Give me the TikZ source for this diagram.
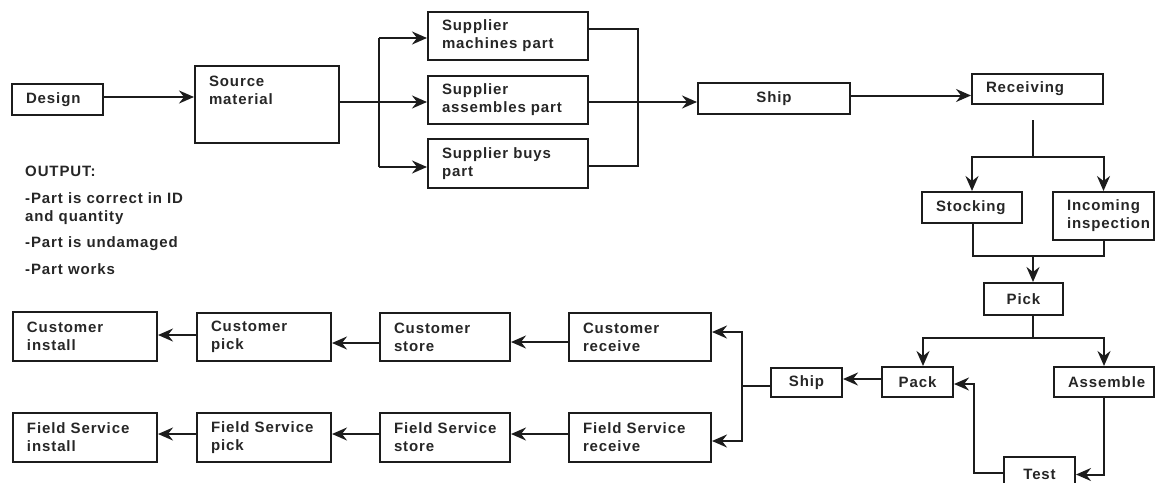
\documentclass[tikz,border=0pt]{standalone}
\usepackage{fontspec}
\setmainfont{Liberation Sans}[LetterSpace=6]
\usetikzlibrary{arrows.meta}
\definecolor{ink}{HTML}{1C1C1C}
\definecolor{txt}{HTML}{262626}
\newcommand\dfont{\fontsize{15}{18}\selectfont\bfseries}
\tikzset{
  bxl/.style 2 args={draw=ink, line width=2pt, inner xsep=14pt, inner ysep=0pt,
    minimum width=#1pt, minimum height=#2pt, text width=#1pt-28pt, align=left,
    text=txt, font=\dfont},
  bxc/.style 2 args={draw=ink, line width=2pt, inner sep=0pt,
    minimum width=#1pt, minimum height=#2pt, align=center, text=txt, font=\dfont},
  ln/.style={draw=ink, line width=2pt},
  arr/.style={ln, -{Stealth[length=15pt,width=13pt,inset=5pt]}},
}
\begin{document}
\begin{tikzpicture}[x=1pt,y=-1pt]
\useasboundingbox (0,0) rectangle (1155,482);
% top row
\node[bxl={91}{31}] (design) at (57.5,99.5) {Design};
\node[bxl={144}{77}] (source) at (267,104.5) {Source\\material\\[10pt]~};
\node[bxl={160}{48}] (sm) at (508,36) {Supplier\\machines part};
\node[bxl={160}{48}] (sa) at (508,100) {Supplier\\assembles part};
\node[bxl={160}{49}] (sb) at (508,163.5) {Supplier buys\\part};
\node[bxc={152}{31}] (shipa) at (774,98.5) {Ship};
\node[bxl={131}{30}] (recv) at (1037.5,89) {Receiving};
\node[bxl={100}{31}] (stock) at (972,207.5) {Stocking};
\node[bxl={101}{48}] (incoming) at (1103.5,216) {Incoming\\inspection};
\node[bxc={79}{32}] (pick) at (1023.5,299) {Pick};
\node[bxc={71}{30}] (pack) at (917.5,382) {Pack};
\node[bxl={100}{30}] (assemble) at (1104,382) {Assemble};
\node[bxc={71}{35}] (test) at (1039.5,474.5) {Test};
\node[bxc={71}{29}] (shipb) at (806.5,382.5) {Ship};
% customer row
\node[bxl={142}{48}] (crecv) at (640,337) {Customer\\receive};
\node[bxl={130}{48}] (cstore) at (445,337) {Customer\\store};
\node[bxl={134}{48}] (cpick) at (264,337) {Customer\\pick};
\node[bxl={144}{49}] (cinst) at (85,336.5) {Customer\\install};
% field service row
\node[bxl={142}{49}] (frecv) at (640,437.5) {Field Service\\receive};
\node[bxl={130}{49}] (fstore) at (445,437.5) {Field Service\\store};
\node[bxl={134}{49}] (fpick) at (264,437.5) {Field Service\\pick};
\node[bxl={144}{49}] (finst) at (85,437.5) {Field Service\\install};
% output text
\node[anchor=north west, inner sep=0pt, align=left, text=txt, font=\dfont] (out) at (25,166)
  {OUTPUT:\\[9pt]-Part is correct in ID\\and quantity\\[8pt]-Part is undamaged\\[9pt]-Part works};
% connectors top
\draw[arr] ([yshift=2.5pt]design.east) -- ([yshift=2.5pt]design.east -| source.west);
\coordinate (br) at (379,102);
\coordinate (brt) at (379,38);
\coordinate (brb) at (379,167);
\draw[ln] (source.east |- br) -- (br);
\draw[ln] (brt) -- (brb);
\draw[arr] (brt) -- (brt -| sm.west);
\draw[arr] (br) -- (br -| sa.west);
\draw[arr] (brb) -- (brb -| sb.west);
\coordinate (mgt) at (638,29);
\coordinate (mgm) at (638,102);
\coordinate (mgb) at (638,166);
\draw[ln] (sm.east |- mgt) -- (mgt) -- (mgb) -- (sb.east |- mgb);
\draw[arr] (sa.east |- mgm) -- (mgm -| shipa.west);
\draw[arr] ([yshift=3pt]shipa.east) -- ([yshift=3pt]shipa.east -| recv.west);
\coordinate (rv) at (1033,120);
\coordinate (rvb) at (1033,157);
\draw[ln] (rv) -- (rvb);
\draw[arr] (rvb) -| (stock.north);
\draw[arr] (rvb) -| (incoming.north);
\coordinate (jn) at (1033,256);
\draw[ln] ([xshift=1pt]stock.south) |- (jn);
\draw[ln] (incoming.south) |- (jn);
\draw[arr] (jn) -- (jn |- pick.north);
\coordinate (sp) at (1033,338);
\draw[ln] (jn |- pick.south) -- (sp);
\draw[arr] (sp) -| ([xshift=5.5pt]pack.north);
\draw[arr] (sp) -| (assemble.north);
\draw[arr] ([yshift=3pt]pack.west) -- ([yshift=3pt]pack.west -| shipb.east);
\draw[arr] (assemble.south) |- (test.east);
\coordinate (tpk) at (974,384);
\draw[arr] ([yshift=1.5pt]test.west) -| (tpk) -- (tpk -| pack.east);
% ship to customer / field service
\coordinate (sb2) at (742,386);
\coordinate (bkt) at (742,332);
\coordinate (bkb) at (742,441);
\draw[ln] (shipb.west |- sb2) -- (sb2);
\draw[arr] (sb2) -- (bkt) -- (bkt -| crecv.east);
\draw[arr] (sb2) -- (bkb) -- (bkb -| frecv.east);
\draw[arr] ([yshift=-5pt]crecv.west) -- ([yshift=-5pt]crecv.west -| cstore.east);
\draw[arr] ([yshift=-6pt]cstore.west) -- ([yshift=-6pt]cstore.west -| cpick.east);
\draw[arr] ([yshift=2pt]cpick.west) -- ([yshift=2pt]cpick.west -| cinst.east);
\draw[arr] ([yshift=3.5pt]frecv.west) -- ([yshift=3.5pt]frecv.west -| fstore.east);
\draw[arr] ([yshift=3.5pt]fstore.west) -- ([yshift=3.5pt]fstore.west -| fpick.east);
\draw[arr] ([yshift=3.5pt]fpick.west) -- ([yshift=3.5pt]fpick.west -| finst.east);
\end{tikzpicture}
\end{document}
